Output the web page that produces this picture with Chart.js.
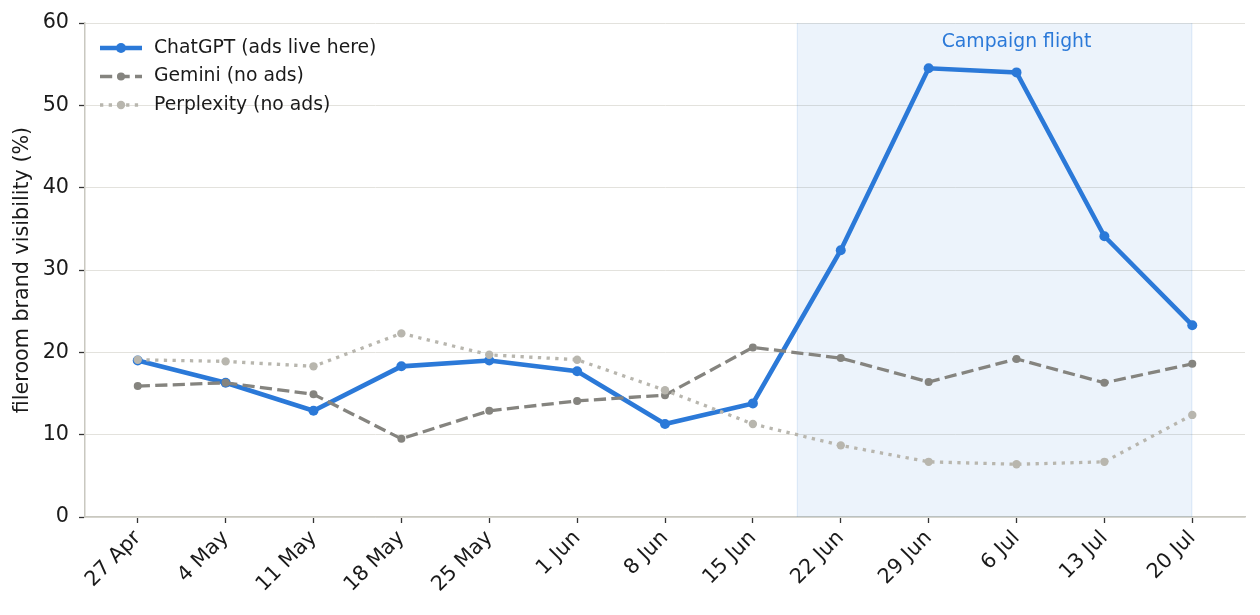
<!DOCTYPE html>
<html>
<head>
<meta charset="utf-8">
<script src="https://cdn.jsdelivr.net/npm/chart.js@4"></script>
<style>
  html, body { margin: 0; padding: 0; background: #fff; }
  #wrap { width: 1260px; height: 615px; }
</style>
</head>
<body>
<div id="wrap"><canvas id="chart" width="1260" height="615"></canvas></div>
<script>
// Weekly labels
const weeks = ['27 Apr', '4 May', '11 May', '18 May', '25 May', '1 Jun', '8 Jun',
               '15 Jun', '22 Jun', '29 Jun', '6 Jul', '13 Jul', '20 Jul'];

// Brand visibility (%) per assistant
const chatgpt = [19.0, 16.3, 12.9, 18.3, 19.0, 17.7, 11.3, 13.8, 32.4, 54.5, 54.0, 34.1, 23.3];
const gemini = [15.9, 16.3, 14.9, 9.5, 12.9, 14.1, 14.8, 20.6, 19.3, 16.4, 19.2, 16.3, 18.6];
const perplexity = [19.1, 18.9, 18.3, 22.3, 19.7, 19.1, 15.4, 11.3, 8.7, 6.7, 6.4, 6.7, 12.4];

// Campaign window (in week index units)
const campaignStart = 7.5;
const campaignEnd = 12;
const campaignLabel = 'Campaign flight';

const yTicks = [0, 10, 20, 30, 40, 50, 60];

const FONT = "'DejaVu Sans', sans-serif";
const BLUE = '#2b79d8';
const GRAY = '#85847f';
const LIGHT = '#b8b6ae';

function toPoints(arr) {
    return arr.map((v, i) => ({ x: i, y: v }));
}

// Shaded campaign band + label
const bandPlugin = {
    id: 'band',
    beforeDatasetsDraw(chart) {
        const { ctx, chartArea, scales } = chart;
        const x0 = scales.x.getPixelForValue(campaignStart);
        const x1 = scales.x.getPixelForValue(campaignEnd);
        ctx.save();
        ctx.fillStyle = 'rgba(43,121,216,0.09)';
        ctx.fillRect(x0, chartArea.top, x1 - x0, chartArea.bottom - chartArea.top);
        ctx.strokeStyle = 'rgba(43,121,216,0.10)';
        ctx.lineWidth = 1;
        ctx.beginPath();
        ctx.moveTo(x0 + 0.5, chartArea.top);
        ctx.lineTo(x0 + 0.5, chartArea.bottom);
        ctx.moveTo(x1 - 0.5, chartArea.top);
        ctx.lineTo(x1 - 0.5, chartArea.bottom);
        ctx.stroke();
        ctx.fillStyle = BLUE;
        ctx.font = '18.8px ' + FONT;
        ctx.textAlign = 'center';
        ctx.textBaseline = 'middle';
        ctx.fillText(campaignLabel, scales.x.getPixelForValue(10), scales.y.getPixelForValue(57.7));
        ctx.restore();
    }
};

// Matplotlib-like legend: line sample with marker, then text
const legendPlugin = {
    id: 'mplLegend',
    afterDraw(chart) {
        const { ctx, chartArea } = chart;
        const x0 = chartArea.left + 15;
        let y = chartArea.top + 25;
        ctx.save();
        chart.data.datasets.forEach(ds => {
            ctx.strokeStyle = ds.borderColor;
            ctx.lineWidth = ds.borderWidth;
            ctx.setLineDash(ds.borderDash || []);
            ctx.beginPath();
            ctx.moveTo(x0, y);
            ctx.lineTo(x0 + 42, y);
            ctx.stroke();
            ctx.setLineDash([]);
            ctx.fillStyle = ds.pointBackgroundColor;
            ctx.beginPath();
            ctx.arc(x0 + 21, y, ds.pointRadius, 0, Math.PI * 2);
            ctx.fill();
            ctx.fillStyle = '#1a1a1a';
            ctx.font = '18.8px ' + FONT;
            ctx.textAlign = 'left';
            ctx.textBaseline = 'middle';
            ctx.fillText(ds.label, x0 + 54, y);
            y += 28.5;
        });
        ctx.restore();
    }
};

new Chart(document.getElementById('chart').getContext('2d'), {
    type: 'line',
    data: {
        datasets: [{
            label: 'ChatGPT (ads live here)',
            data: toPoints(chatgpt),
            borderColor: BLUE,
            backgroundColor: BLUE,
            pointBackgroundColor: BLUE,
            pointBorderWidth: 0,
            borderWidth: 4.6,
            pointRadius: 5,
            order: 3
        }, {
            label: 'Gemini (no ads)',
            data: toPoints(gemini),
            borderColor: GRAY,
            backgroundColor: GRAY,
            pointBackgroundColor: GRAY,
            pointBorderWidth: 0,
            borderWidth: 3.3,
            borderDash: [12.2, 5.3],
            pointRadius: 4,
            order: 2
        }, {
            label: 'Perplexity (no ads)',
            data: toPoints(perplexity),
            borderColor: LIGHT,
            backgroundColor: LIGHT,
            pointBackgroundColor: LIGHT,
            pointBorderWidth: 0,
            borderWidth: 3.3,
            borderDash: [3.3, 5.4],
            pointRadius: 4.2,
            order: 1
        }]
    },
    options: {
        responsive: false,
        animation: false,
        layout: { padding: { left: 0, right: 15, top: 23, bottom: 0 } },
        plugins: {
            legend: { display: false },
            tooltip: { enabled: false }
        },
        scales: {
            x: {
                type: 'linear',
                min: -0.6,
                max: 12.6,
                afterBuildTicks(scale) {
                    scale.ticks = weeks.map((_, i) => ({ value: i }));
                },
                afterFit(scale) { scale.height = 98; },
                grid: {
                    drawOnChartArea: false,
                    tickLength: 6,
                    tickColor: '#333',
                    tickWidth: 1.3
                },
                border: { color: '#c9c8c0', width: 1.5 },
                ticks: {
                    autoSkip: false,
                    maxRotation: 45,
                    minRotation: 45,
                    padding: 3,
                    color: '#1a1a1a',
                    font: { family: FONT, size: 20.7 },
                    callback: (v) => weeks[v]
                }
            },
            y: {
                min: 0,
                max: 60,
                afterBuildTicks(scale) {
                    scale.ticks = yTicks.map(v => ({ value: v }));
                },
                afterFit(scale) { scale.width = 85; },
                grid: {
                    color: '#e3e2dd',
                    lineWidth: 1,
                    tickLength: 6,
                    tickColor: '#333',
                    tickWidth: 1.3
                },
                border: { color: '#c9c8c0', width: 1.5 },
                ticks: {
                    padding: 10,
                    color: '#1a1a1a',
                    font: { family: FONT, size: 20.7 }
                },
                title: {
                    display: true,
                    text: 'fileroom brand visibility (%)',
                    color: '#1a1a1a',
                    font: { family: FONT, size: 20.7 },
                    padding: { top: 10, bottom: 4 }
                }
            }
        }
    },
    plugins: [bandPlugin, legendPlugin]
});
</script>
</body>
</html>
